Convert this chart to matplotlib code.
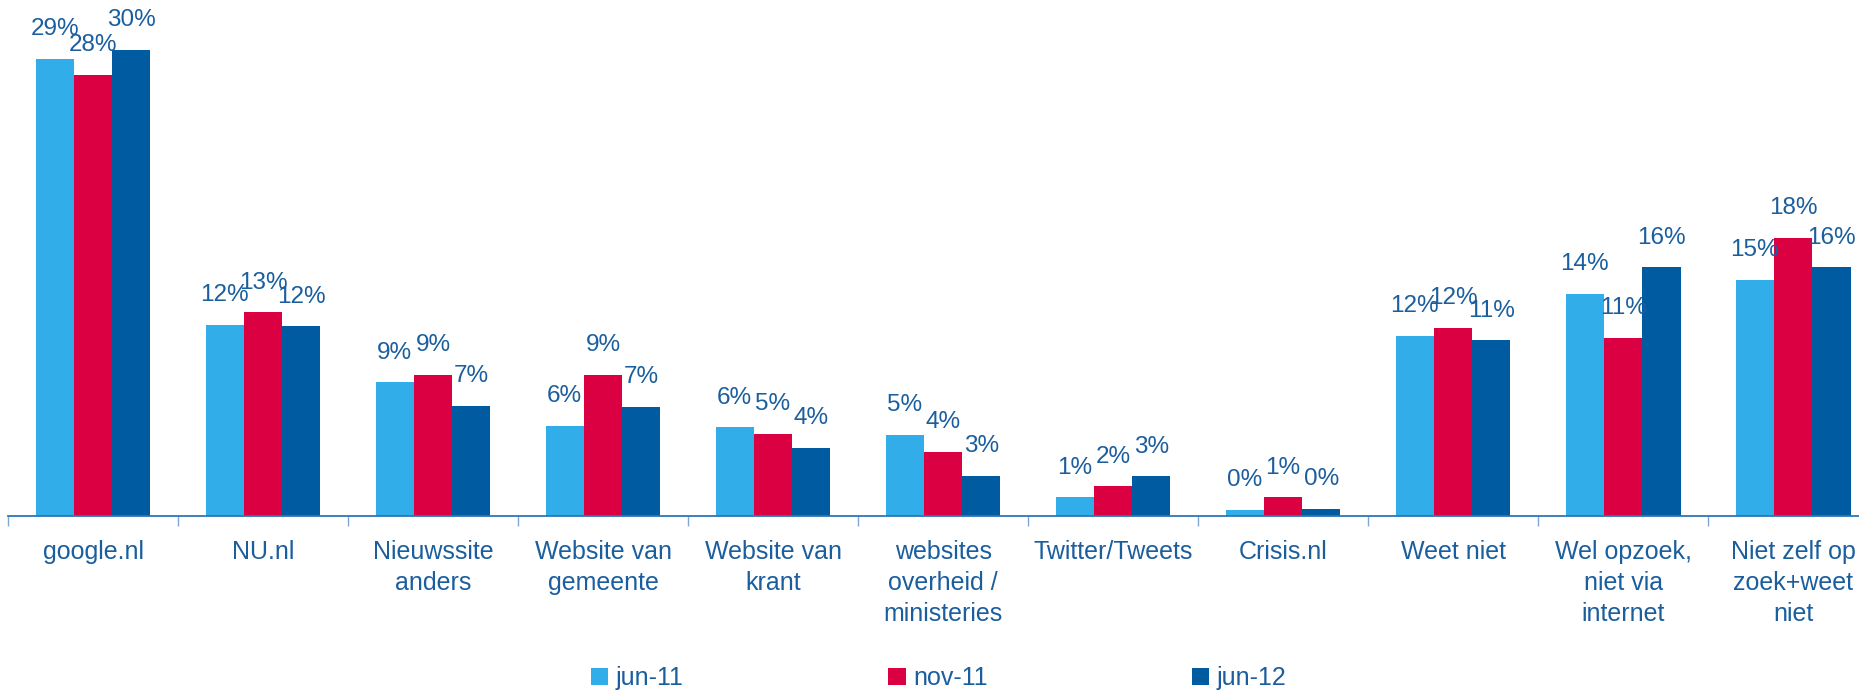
import matplotlib
matplotlib.use("Agg")
import matplotlib.pyplot as plt
import numpy as np

plt.rcParams['font.family'] = ['Liberation Sans', 'DejaVu Sans']

# --- DATA (percentages)
categories = ['google.nl', 'NU.nl', 'Nieuwssite\nanders', 'Website van\ngemeente',
              'Website van\nkrant', 'websites\noverheid /\nministeries', 'Twitter/Tweets',
              'Crisis.nl', 'Weet niet', 'Wel opzoek,\nniet via\ninternet',
              'Niet zelf op\nzoek+weet\nniet']
series_names = ['jun-11', 'nov-11', 'jun-12']
jun11 = [29.4, 12.3, 8.6, 5.8, 5.7, 5.2, 1.2, 0.4, 11.6, 14.3, 15.2]
nov11 = [28.4, 13.1, 9.1, 9.1, 5.3, 4.1, 1.9, 1.2, 12.1, 11.45, 17.9]
jun12 = [30.0, 12.2, 7.1, 7.0, 4.4, 2.6, 2.55, 0.45, 11.3, 16.0, 16.0]

colors = ['#31ADE9', '#DB0042', '#005BA1']
text_col = '#1B5E9E'

fig = plt.figure(figsize=(18.59, 6.92), dpi=100)
ax = fig.add_axes([0.0043, 0.2543, 1.006, 0.7457])

x = np.arange(len(categories))
w = 0.225
bars = []
for i, (vals, name) in enumerate(zip([jun11, nov11, jun12], series_names)):
    b = ax.bar(x + (i - 1) * w, vals, width=w, color=colors[i], label=name)
    bars.append(b)
    for xi, v in zip(x + (i - 1) * w, vals):
        ax.annotate("%.0f%%" % v, (xi, v), xytext=(0, 21.5), textcoords='offset points',
                    ha='center', va='center', fontsize=17.5, color=text_col)

ax.set_xlim(-0.5, len(categories) - 0.5)
ax.set_ylim(0, 516 / 15.54)

for s in ['top', 'right', 'left']:
    ax.spines[s].set_visible(False)
ax.spines['bottom'].set_color('#2E75B6')
ax.spines['bottom'].set_linewidth(1.3)
ax.set_yticks([])

ax.set_xticks(x)
ax.set_xticklabels(categories, fontsize=18, color=text_col, linespacing=1.38, va='top')
ax.tick_params(axis='x', which='major', length=0, pad=17)
ax.set_xticks(np.arange(len(categories)) - 0.5, minor=True)
ax.tick_params(axis='x', which='minor', length=7, width=1, color='#7FA7D6', direction='out')

fig.legend(handles=bars, labels=series_names, loc='lower center', ncol=3, frameon=False,
           fontsize=18, labelcolor=text_col, handlelength=0.7, handleheight=0.7,
           handletextpad=0.3, columnspacing=8.17, bbox_to_anchor=(0.505, -0.03))

fig.savefig("out.png", dpi=100)
